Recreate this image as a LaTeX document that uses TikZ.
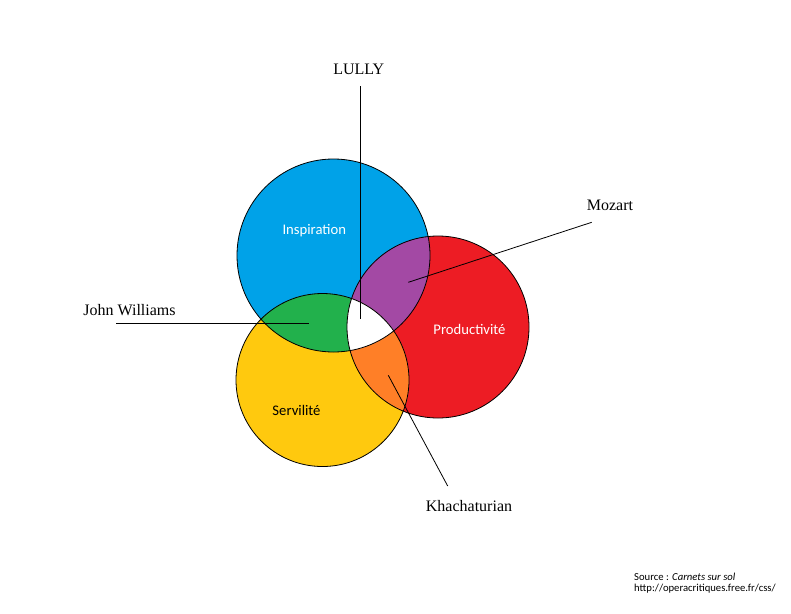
\documentclass[tikz,border=0pt]{standalone}
\usepackage{fontspec}
\setmainfont{Liberation Serif}
\newfontfamily\calibri{Carlito}
\definecolor{inspblue}{RGB}{0,162,232}
\definecolor{prodred}{RGB}{237,28,36}
\definecolor{servyellow}{RGB}{255,201,14}
\definecolor{mixgreen}{RGB}{34,177,76}
\definecolor{mixpurple}{RGB}{163,73,164}
\definecolor{mixorange}{RGB}{255,127,39}
\begin{document}
\begin{tikzpicture}[x=1pt,y=-1pt]
	\useasboundingbox (0,0) rectangle (791,613);
	\coordinate (I) at (333.5,255.5);
	\coordinate (P) at (438,327);
	\coordinate (S) at (322.5,380);

	% the three sets
	\fill[inspblue] (I) circle (96.5pt);
	\fill[prodred] (P) circle (91pt);
	\fill[servyellow] (S) circle (86.5pt);
	\begin{scope}
		\clip (I) circle (96.5pt);
		\fill[mixgreen] (S) circle (86.5pt);
		\fill[mixpurple] (P) circle (91pt);
	\end{scope}
	\begin{scope}
		\clip (P) circle (91pt);
		\fill[mixorange] (S) circle (86.5pt);
		\clip (I) circle (96.5pt);
		\fill[white] (S) circle (86.5pt);
	\end{scope}
	\begin{scope}[line width=0.8pt]
		\draw (I) circle (96.5pt);
		\draw (P) circle (91pt);
		\draw (S) circle (86.5pt);
	\end{scope}

	\begin{scope}[every node/.style={font=\calibri\fontsize{14.67}{17}\selectfont,anchor=base,inner sep=0pt}]
		\node[white] (insp) at (314.3,234.5) {Inspiration};
		\node[white] (prod) at (469.5,334.5) {Productivité};
		\node (serv) at (296.5,415) {Servilité};
	\end{scope}

	\begin{scope}[every node/.style={font=\fontsize{16}{19}\selectfont,anchor=base,inner sep=0pt}]
		\node (lully) at (358.8,74.3) {LULLY};
		\node (williams) at (129.5,315.5) {John Williams};
		\node (mozart) at (610,210) {Mozart};
		\node (khach) at (469,511.3) {Khachaturian};
	\end{scope}

	\coordinate (lully1) at (360,86);
	\coordinate (lully2) at (360,319);
	\coordinate (williams1) at (116,323);
	\coordinate (williams2) at (308.5,323);
	\coordinate (mozart1) at (591.7,222.3);
	\coordinate (mozart2) at (408.3,282.3);
	\coordinate (khach1) at (447.7,486);
	\coordinate (khach2) at (388.3,375.3);

	\begin{scope}[every edge/.style={draw=black,line width=0.8pt}]
		\path (lully1) edge (lully2);
		\path (williams1) edge (williams2);
		\path (mozart1) edge (mozart2);
		\path (khach1) edge (khach2);
	\end{scope}

	\begin{scope}[every node/.style={font=\calibri\fontsize{10.67}{12}\selectfont,anchor=base west,inner sep=0pt}]
		\node (source) at (634,580) {Source : \textit{Carnets sur sol}};
		\node (url) at (634,591.5) {http://operacritiques.free.fr/css/};
	\end{scope}
\end{tikzpicture}
\end{document}
